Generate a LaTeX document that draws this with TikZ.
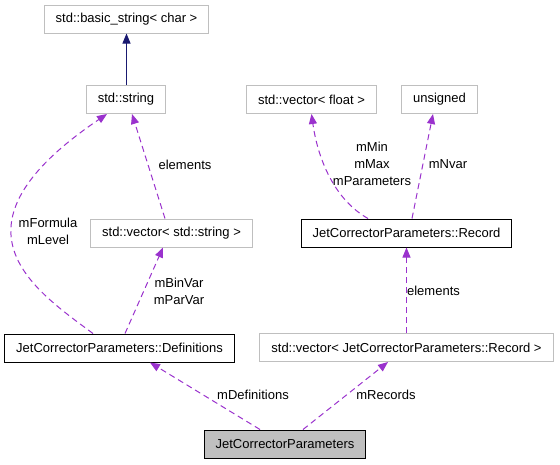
\documentclass[tikz,border=0pt]{standalone}
\usepackage{fontspec}
\setmainfont{Liberation Sans}
\usetikzlibrary{arrows.meta}

\definecolor{edgepurple}{HTML}{9A32CD}
\definecolor{edgenavy}{HTML}{191970}
\definecolor{boxgray}{HTML}{BFBFBF}

\begin{document}
\begin{tikzpicture}[x=1pt, y=-1pt, font=\fontsize{13}{17}\selectfont,
    >={Triangle[length=10pt,width=8pt]},
    box/.style={draw=boxgray, line width=1pt, minimum height=28pt, inner xsep=11.5pt, inner ysep=0pt},
    classbox/.style={box, draw=black},
    mainbox/.style={box, draw=black, fill=boxgray},
    uses/.style={->, color=edgepurple, line width=1pt, dash pattern=on 6pt off 4pt},
    inherits/.style={->, color=edgenavy, line width=1pt},
    lbl/.style={align=center, inner sep=0pt}]

    \useasboundingbox (0,0) rectangle (560,464);

    % Boxes
    \node[box] (basicstr) at (126.5,19) {std::basic\_string< char >};
    \node[box] (stdstr) at (126,99.5) {std::string};
    \node[box] (vecfloat) at (311.5,99.5) {std::vector< float >};
    \node[box] (unsig) at (439.5,99.5) {unsigned};
    \node[box] (vecstr) at (171.5,233) {std::vector< std::string >};
    \node[classbox] (record) at (406.5,233) {JetCorrectorParameters::Record};
    \node[classbox] (defs) at (119.5,348) {JetCorrectorParameters::Definitions};
    \node[box] (vecrec) at (406.5,347.5) {std::vector< JetCorrectorParameters::Record >};
    \node[mainbox] (jcp) at (285,444) {JetCorrectorParameters};

    % Inheritance
    \draw[inherits] ([xshift=0.5pt]stdstr.north) -- (basicstr.south);

    % Members
    \draw[uses] ([xshift=-26.5pt]defs.north) .. controls (33,289) and (-60,227) .. ([xshift=-19pt]stdstr.south);
    \draw[uses] ([xshift=5.5pt]defs.north) -- ([xshift=-8.5pt]vecstr.south);
    \draw[uses] ([xshift=-6.5pt]vecstr.north) -- ([xshift=6pt]stdstr.south);
    \draw[uses] ([xshift=-38.5pt]record.north) .. controls (335,200) and (318,160) .. (vecfloat.south);
    \draw[uses] ([xshift=5.5pt]record.north) -- ([xshift=-6.5pt]unsig.south);
    \draw[uses] (vecrec.north) -- (record.south);
    \draw[uses] ([xshift=-25pt]jcp.north) -- ([xshift=30.5pt]defs.south);
    \draw[uses] ([xshift=18pt]jcp.north) -- ([xshift=-18.5pt]vecrec.south);

    % Labels
    \node[lbl] (lformula) at (48,231) {mFormula\\mLevel};
    \node[lbl] (lbinvar) at (179,291) {mBinVar\\mParVar};
    \node[lbl] (lelemstr) at (185,165) {elements};
    \node[lbl] (lminmax) at (372,164) {mMin\\mMax\\mParameters};
    \node[lbl] (lnvar) at (448,164) {mNvar};
    \node[lbl] (lelemrec) at (433.5,291) {elements};
    \node[lbl] (ldefs) at (253,395) {mDefinitions};
    \node[lbl] (lrecs) at (386,395) {mRecords};

\end{tikzpicture}
\end{document}
